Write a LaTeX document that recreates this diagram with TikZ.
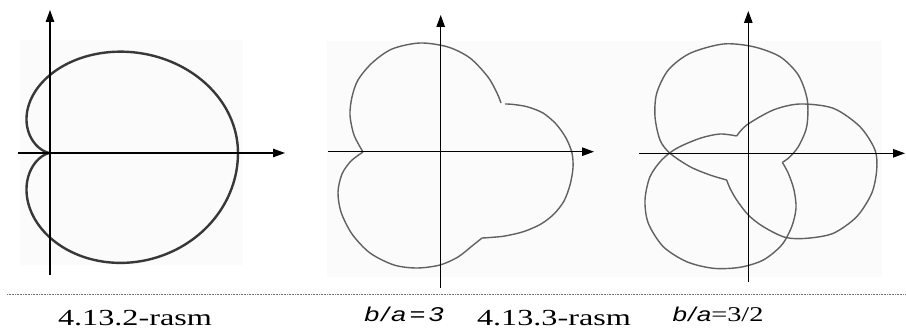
\documentclass[tikz,border=0pt]{standalone}
\usepackage{fontspec}
\setmainfont{Liberation Serif}
\setsansfont{Liberation Sans}
\usepackage{graphicx}
\usetikzlibrary{arrows.meta}
\begin{document}
\begin{tikzpicture}[x=1pt,y=-1pt,
  axis/.style={line width=1.1pt, -{Triangle[length=12pt,width=8.5pt]}},
  curvethick/.style={line width=2.4pt, draw=black!78, line join=round},
  curve/.style={line width=1.4pt, draw=black!62, line join=round},
  bgpanel/.style={fill=black!1.5, draw=none},
  caption/.style={anchor=base, inner sep=0pt, font=\fontsize{23}{23}\selectfont},
  ratio/.style={anchor=base, inner sep=0pt, font=\fontsize{20}{20}\selectfont},
  rule/.style={black!55, line width=0.8pt, dash pattern=on 0.8pt off 0.8pt}]
\useasboundingbox (0,0) rectangle (906,329);

% faint panel backgrounds
\fill[bgpanel] (20,40) rectangle (243,265);
\fill[bgpanel] (327,41) rectangle (612,277);
\fill[bgpanel] (612,41) rectangle (882,277);

% ---------- panel 1 : cardioid ----------
\draw[curvethick] plot[domain=0:180,samples=120,variable=\t]
  ({50+94*(1+cos(\t))*cos(\t)},{153-0.83*94*(1+cos(\t))*sin(\t)});
\draw[curvethick] plot[domain=180:360,samples=120,variable=\t]
  ({50+94*(1+cos(\t))*cos(\t)},{153-0.90*94*(1+cos(\t))*sin(\t)});
\coordinate (a1b) at (50,275); \coordinate (a1t) at (50,10);
\coordinate (a1l) at (18,153); \coordinate (a1r) at (285,153);
\draw[axis] (a1b) -- (a1t);
\draw[axis] (a1l) -- (a1r);

% ---------- panel 2 : b/a = 3 ----------
\draw[curve] plot[smooth] coordinates {(363,152) (354,135) (350,115) (352,97) (358,80) (372,63) (392,49) (420,43) (448,47) (470,58) (488,77) (497,93) (501,103)};
\draw[curve] plot[smooth] coordinates {(505,104) (512,104.3) (527,106.7) (543,113) (556,124) (566,138) (572,153) (573,168) (570,185) (564,201) (554,214) (541,224) (524,231.5) (505,236) (490,237.5) (482,238)};
\draw[curve] plot[smooth] coordinates {(482,238) (472,246) (458,257) (440,265) (417,268) (394,265) (370,253) (352,234) (341,212) (338,192) (342,174) (351,161) (363,152)};
\coordinate (a2b) at (440.7,288); \coordinate (a2t) at (440.7,15);
\coordinate (a2l) at (328,151.7); \coordinate (a2r) at (594,151.7);
\draw[axis] (a2b) -- (a2t);
\draw[axis] (a2l) -- (a2r);

% ---------- panel 3 : b/a = 3/2 ----------
\draw[curve] plot[smooth] coordinates {(736.7,136) (746.7,125) (773.3,110) (800,104) (833.3,108.3) (860,126.7) (875,150) (876.7,170) (871.7,193.3) (856.7,216.7) (833.3,233.3) (806.7,238.3) (785,237.3) (763.3,226.7) (748.3,215) (736.7,200) (730,188.3) (726.7,180)};
\draw[curve] plot[smooth] coordinates {(726.7,180) (710,175) (690,166.7) (670,153.3) (660,140) (655,116.7) (656.7,93.3) (668.3,70) (690,53.3) (723.3,44) (753.3,46.7) (780,56.7) (798.3,75) (807.3,100) (806.7,126.7) (798.3,146.7) (788.3,158.3) (782.3,162.3)};
\draw[curve] plot[smooth] coordinates {(782.3,162.3) (788.3,173.3) (794,190) (796,208.3) (791.7,226.7) (781.7,245) (763.3,260) (740,267.3) (713.3,268.3) (686.7,261.7) (663.3,246.7) (648.3,223.3) (645,200) (650,176.7) (661.7,160) (676.7,148.3) (700,138.3) (720,134) (736.7,136)};
\coordinate (a3b) at (748.3,282); \coordinate (a3t) at (748.3,11);
\coordinate (a3l) at (639,153.3); \coordinate (a3r) at (905,153.3);
\draw[axis] (a3b) -- (a3t);
\draw[axis] (a3l) -- (a3r);

% ---------- rule and captions ----------
\coordinate (rl) at (7,294); \coordinate (rr) at (906,294);
\draw[rule] (rl) -- (rr);
\node[caption] (cap1) at (135,325.5) {\scalebox{1.4}[1]{4.13.2-rasm}};
\node[caption] (cap2) at (554,325.5) {\scalebox{1.4}[1]{4.13.3-rasm}};
\node[ratio] (rat1) at (404,321.5) {\scalebox{1.35}[1]{\sffamily\itshape b\kern1.5pt/\kern1.5pt a\kern2.5pt=\kern2.5pt3}};
\node[ratio] (rat2) at (718,321) {\scalebox{1.3}[1]{\sffamily\itshape b\kern1pt/\kern1pt a}\scalebox{1.35}[1]{\fontsize{21}{21}\selectfont\rmfamily\upshape =3/2}};
\end{tikzpicture}
\end{document}
